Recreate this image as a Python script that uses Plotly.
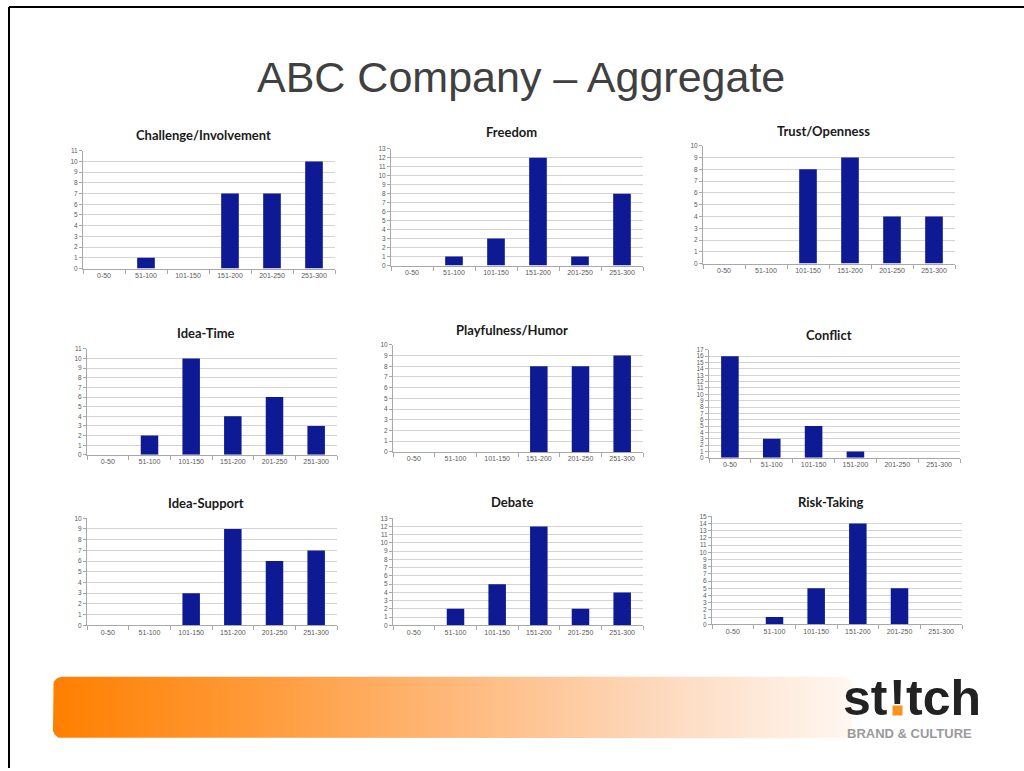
import numpy as np
import plotly.graph_objects as go

W, H = 1024, 771

# Score ranges shared by every dimension
categories = ["0-50", "51-100", "101-150", "151-200", "201-250", "251-300"]

# Respondent counts per score range
challenge_involvement = [0, 1, 0, 7, 7, 10]
freedom = [0, 1, 3, 12, 1, 8]
trust_openness = [0, 0, 8, 9, 4, 4]
idea_time = [0, 2, 10, 4, 6, 3]
playfulness_humor = [0, 0, 0, 8, 8, 9]
conflict = [16, 3, 5, 1, 0, 0]
idea_support = [0, 0, 3, 9, 6, 7]
debate = [0, 2, 5, 12, 2, 4]
risk_taking = [0, 1, 5, 14, 5, 0]

titles = ["Challenge/Involvement", "Freedom", "Trust/Openness",
          "Idea-Time", "Playfulness/Humor", "Conflict",
          "Idea-Support", "Debate", "Risk-Taking"]
series = [challenge_involvement, freedom, trust_openness,
          idea_time, playfulness_humor, conflict,
          idea_support, debate, risk_taking]
y_max = [11, 13, 10, 11, 10, 17, 10, 13, 15]

# Plot-area boxes in page pixels: left, right, top, bottom
boxes = [
    (83, 335, 148, 267), (391, 643, 146, 264), (703, 955, 143, 262),
    (87, 337, 348, 455), (393, 643, 344, 452), (709, 960, 349, 458),
    (87, 337, 519, 627), (393, 643, 519, 627), (712, 962, 517, 626),
]
title_y = [132, 129, 128, 332, 329, 334, 504, 503, 503]

BAR = "#0d1a94"
GRID = "#d4d4d4"
AXIS = "#a8a8a8"
XTICKFONT = dict(family="Liberation Sans", size=7, color="#5a5a5a")
YTICKFONT = dict(family="Liberation Sans", size=6.5, color="#5a5a5a")


def px_x(x):
    return x / W


def px_y(y):
    return 1 - y / H


fig = go.Figure()
annotations = []
shapes = []

for i, (name, vals, top, box, ty) in enumerate(zip(titles, series, y_max, boxes, title_y)):
    n = i + 1
    xa = "x" if n == 1 else f"x{n}"
    ya = "y" if n == 1 else f"y{n}"
    l, r, t, b = box
    fig.add_trace(go.Bar(
        x=categories, y=vals, xaxis=xa, yaxis=ya,
        marker=dict(color=BAR, line=dict(width=0)),
        showlegend=False, hoverinfo="x+y",
    ))
    xkey = "xaxis" if n == 1 else f"xaxis{n}"
    ykey = "yaxis" if n == 1 else f"yaxis{n}"
    fig.layout[xkey] = dict(
        domain=[px_x(l), px_x(r)], anchor=ya, type="category",
        showline=True, linecolor=AXIS, linewidth=1,
        ticks="outside", tickson="boundaries", ticklen=4, tickcolor=AXIS,
        showgrid=False, tickfont=XTICKFONT, fixedrange=True,
    )
    fig.layout[ykey] = dict(
        domain=[px_y(b), px_y(t)], anchor=xa, range=[0, top],
        dtick=1, tick0=0, showline=True, linecolor=AXIS, linewidth=1,
        ticks="outside", ticklen=3, tickcolor=AXIS,
        showgrid=True, gridcolor=GRID, gridwidth=1, zeroline=False,
        tickfont=YTICKFONT, fixedrange=True,
    )
    annotations.append(dict(
        text=f"<b>{name}</b>", x=px_x((l + r) / 2 - 6), y=px_y(ty),
        xref="paper", yref="paper", showarrow=False,
        xanchor="center", yanchor="middle",
        font=dict(family="Lato", size=13, color="#1a1a1a"),
    ))

fig.update_layout(bargap=0.58)

# Footer strip axis (page pixels) used for the gradient band
k = len(titles) + 1
foot_top = 660
fig.layout[f"xaxis{k}"] = dict(domain=[0, 1], range=[0, W], visible=False, fixedrange=True)
fig.layout[f"yaxis{k}"] = dict(domain=[0, px_y(foot_top)], range=[H, foot_top],
                               visible=False, fixedrange=True)

band_l, band_r, band_t, band_b, rad = 53, 852, 679, 741, 9
ang = np.linspace(0, np.pi / 2, 10)
bx, by = [], []
for cx, cy, a0 in [(band_r - rad, band_t + rad, -np.pi / 2), (band_r - rad, band_b - rad, 0),
                   (band_l + rad, band_b - rad, np.pi / 2), (band_l + rad, band_t + rad, np.pi)]:
    bx += list(cx + rad * np.cos(a0 + ang))
    by += list(cy + rad * np.sin(a0 + ang))
bx.append(bx[0])
by.append(by[0])
fig.add_trace(go.Scatter(
    x=bx, y=by, xaxis=f"x{k}", yaxis=f"y{k}", mode="lines",
    line=dict(width=0), fill="toself",
    fillgradient=dict(type="horizontal", colorscale=[
        [0, "#ff7f00"], [0.25, "#ff9a38"], [0.5, "#ffb87a"],
        [0.75, "#fdd8bb"], [1, "#fff7f1"]]),
    showlegend=False, hoverinfo="skip",
))

# Page title
annotations.append(dict(
    text="ABC Company – Aggregate", x=px_x(521), y=px_y(74),
    xref="paper", yref="paper", showarrow=False, xanchor="center", yanchor="middle",
    font=dict(family="Liberation Sans", size=43, color="#404040"),
))

# Logo: "st" + "!" + "tch" placed around a fixed centre for the "!"
LOGO_FONT = dict(family="Liberation Sans", size=50, color="#222222")
bang_x, logo_y = 897, 700
annotations.append(dict(
    text="<b>st</b>", x=px_x(bang_x - 8), y=px_y(logo_y), xref="paper", yref="paper",
    showarrow=False, xanchor="right", yanchor="middle", borderpad=0, font=LOGO_FONT,
))
annotations.append(dict(
    text="<b>!</b>", x=px_x(bang_x), y=px_y(logo_y), xref="paper", yref="paper",
    showarrow=False, xanchor="center", yanchor="middle", borderpad=0, font=LOGO_FONT,
))
annotations.append(dict(
    text="<b>tch</b>", x=px_x(bang_x + 8), y=px_y(logo_y), xref="paper", yref="paper",
    showarrow=False, xanchor="left", yanchor="middle", borderpad=0, font=LOGO_FONT,
))
# orange dot of the "!", drawn as a filled box on top of the lettering
annotations.append(dict(
    text="", x=px_x(bang_x), y=px_y(logo_y + 13), xref="paper", yref="paper",
    showarrow=False, xanchor="center", yanchor="middle",
    width=9, height=9, bgcolor="#f7941d", borderpad=0,
))
annotations.append(dict(
    text="<b>BRAND &amp; CULTURE</b>", x=px_x(909), y=px_y(736),
    xref="paper", yref="paper", showarrow=False, xanchor="center", yanchor="middle",
    borderpad=0, font=dict(family="Liberation Sans", size=13, color="#9a9a9a"),
))

# Slide frame lines along the top and left edges
shapes.append(dict(type="line", xref="paper", yref="paper",
                   x0=px_x(9), x1=1, y0=px_y(3), y1=px_y(3),
                   line=dict(color="#000000", width=2)))
shapes.append(dict(type="line", xref="paper", yref="paper",
                   x0=px_x(9), x1=px_x(9), y0=px_y(3), y1=0,
                   line=dict(color="#000000", width=2)))

fig.update_layout(
    width=W, height=H, margin=dict(l=0, r=0, t=0, b=0),
    paper_bgcolor="white", plot_bgcolor="rgba(0,0,0,0)",
    annotations=annotations, shapes=shapes,
)

fig.write_html("out.html", config={"displayModeBar": False})
